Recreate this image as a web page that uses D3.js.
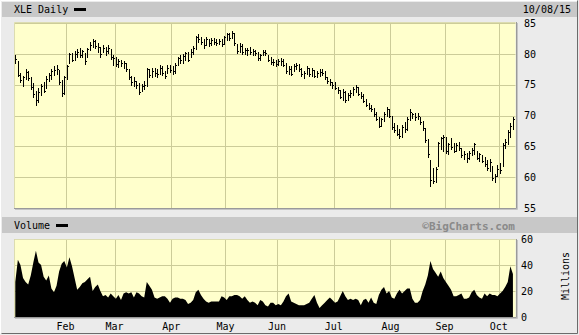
<!DOCTYPE html>
<html>
<head>
<meta charset="utf-8">
<script src="https://cdn.jsdelivr.net/npm/d3@7"></script>
<style>
  body { margin: 0; background: #ebebeb; }
  svg { display: block; }
  text { font-family: "DejaVu Sans Mono", monospace; font-size: 10px; fill: #000; }
</style>
</head>
<body>
<svg id="chart" width="579" height="335"></svg>
<script>
// XLE daily bars, Jan 2 2015 .. Oct 8 2015 (one entry per trading day)
const highs = [
  79.8,78.9,77.0,76.5,77.5,77.3,76.3,75.3,74.0,74.5,75.2,75.5,76.5,77.0,77.6,78.0,78.2,77.4,75.8,76.5,
  78.3,80.2,80.2,80.5,80.8,81.0,80.7,80.2,81.0,82.0,82.4,82.3,81.8,81.2,81.5,81.2,81.4,80.8,79.9,
  79.6,79.2,79.1,78.9,78.5,77.6,76.5,76.2,75.7,75.3,75.2,75.6,77.8,77.5,77.7,77.8,77.5,78.3,78.0,77.2,78.2,78.3,
  78.0,78.6,79.6,79.8,80.0,80.4,80.4,80.8,81.3,83.0,83.2,82.8,82.4,82.8,82.5,82.6,82.6,82.4,82.5,82.4,82.9,
  83.4,83.5,83.8,83.4,81.7,81.8,81.7,81.0,81.0,81.1,80.9,80.7,80.3,80.0,80.6,80.7,79.9,79.6,79.2,79.0,
  79.2,79.3,79.2,78.5,78.1,78.0,78.4,78.5,78.4,77.8,77.3,78.0,77.8,77.7,77.4,77.2,77.5,77.6,77.2,76.3,76.0,75.5,
  75.5,74.6,74.2,74.4,74.0,73.7,74.2,74.6,75.0,74.6,73.8,73.5,72.7,72.0,71.8,71.3,70.6,69.8,69.6,70.6,71.4,71.0,
  69.9,68.8,68.5,67.8,68.5,69.0,69.8,71.0,70.5,70.4,70.5,69.8,69.2,68.0,66.2,62.8,61.5,61.6,65.8,66.6,66.9,
  66.5,65.6,66.3,65.6,65.5,65.8,64.8,64.3,64.0,64.3,64.8,65.6,64.2,64.0,63.6,63.3,62.8,62.9,61.8,60.6,62.0,
  62.3,65.6,66.2,67.6,68.8,69.7
];
const lows = [
  78.6,76.4,75.5,74.8,75.9,75.8,74.4,73.0,71.7,72.2,73.3,73.8,74.5,75.6,76.0,76.6,76.8,75.2,73.2,73.5,
  76.0,78.5,78.9,79.0,79.6,79.5,79.5,78.4,79.5,80.7,81.2,81.0,80.3,79.6,80.3,79.8,80.1,79.2,78.3,
  78.0,77.9,78.0,77.8,77.3,76.0,75.0,74.8,74.5,73.5,74.0,74.3,74.8,76.2,76.3,76.5,76.2,76.8,76.6,76.1,77.0,77.1,
  76.7,76.9,78.2,78.6,78.6,79.0,78.8,79.5,80.0,80.8,82.0,81.6,81.0,81.4,81.3,81.5,81.6,81.5,81.6,81.3,81.7,
  82.3,82.3,82.6,81.5,80.2,80.3,80.0,80.0,79.9,80.0,79.9,79.8,79.1,79.0,79.8,79.9,78.8,78.4,78.2,78.0,
  78.2,78.3,78.1,77.0,76.7,76.6,77.2,77.5,77.3,76.5,76.1,76.8,76.5,76.5,76.2,76.2,76.5,76.6,76.0,75.3,75.0,74.5,
  74.3,73.7,72.8,72.6,72.2,72.6,73.0,73.4,73.8,73.3,72.9,72.2,71.6,71.0,70.7,70.0,69.3,68.1,68.3,69.2,69.9,69.7,
  67.8,67.4,66.8,66.4,66.6,67.4,67.7,69.3,69.6,69.3,69.4,68.7,67.7,65.8,63.3,58.6,59.1,59.2,61.8,64.6,64.3,
  63.9,63.8,64.6,64.1,64.2,64.5,63.3,63.0,62.5,63.0,63.6,63.8,62.9,62.6,62.4,61.9,61.2,61.0,59.6,59.3,60.2,
  60.7,61.8,64.8,65.4,66.6,67.8
];
const closes = [
  79.2,76.6,75.8,76.2,77.1,76.1,74.6,73.5,72.5,73.8,74.8,74.0,76.0,76.6,77.2,77.4,77.6,75.5,73.6,76.2,
  78.0,80.0,79.1,80.0,80.4,79.8,80.5,78.8,80.8,81.4,82.1,81.3,81.1,80.0,81.0,80.5,81.0,79.6,79.3,
  78.4,78.9,78.6,78.5,77.6,76.3,75.4,75.6,74.9,73.8,74.8,75.0,77.5,76.6,77.3,77.0,76.8,77.8,76.9,76.5,77.8,77.4,
  77.2,78.3,79.4,79.0,79.7,80.1,79.1,80.4,81.0,82.8,82.5,82.0,81.5,82.4,81.8,82.3,82.0,81.8,82.2,81.6,82.7,
  83.2,82.6,83.5,81.8,80.5,81.3,80.4,80.6,80.6,80.3,80.5,80.1,79.4,79.8,80.3,80.2,79.1,78.7,78.7,78.4,
  78.9,78.8,78.3,77.3,77.5,76.8,78.1,78.3,77.5,76.7,76.9,77.7,76.8,77.4,76.4,76.9,77.1,76.9,76.2,75.6,75.4,74.9,
  74.5,74.2,73.0,73.9,72.5,73.3,73.6,74.3,74.6,73.5,73.2,72.4,71.8,71.3,71.0,70.3,69.5,68.4,69.4,70.3,71.0,70.0,
  68.2,67.7,67.1,66.7,68.2,67.8,69.5,70.6,70.2,69.7,70.0,69.0,68.0,66.0,63.8,59.6,59.4,61.3,65.5,66.3,66.5,
  64.2,65.4,64.9,64.3,65.2,64.8,63.6,63.8,63.1,64.0,64.5,65.4,63.2,63.7,62.7,62.1,61.5,62.5,59.9,60.2,61.3,
  61.2,65.3,65.7,67.3,68.3,69.4
];
// volume, millions of shares
const volumes = [
  27,44,40,30,27,25,32,42,51,42,40,31,28,32,22,19,24,35,41,43,
  38,46,39,30,21,23,26,27,29,31,20,23,25,20,16,17,15,18,16,
  14,17,13,18,19,18,19,15,19,18,16,15,27,24,21,15,14,15,16,16,14,11,
  14,15,15,14,14,13,10,11,13,19,21,17,14,12,11,12,12,12,12,16,15,
  13,16,16,17,17,16,14,16,13,11,12,11,9,13,12,9,8,11,11,9,
  10,9,12,16,18,12,11,10,9,9,9,10,11,14,17,11,7,9,11,13,15,13,
  11,12,16,20,16,13,14,13,14,13,9,13,14,11,15,11,10,17,21,23,18,20,
  15,14,18,21,18,20,22,22,14,11,11,13,20,25,32,43,37,34,31,35,30,
  27,24,21,16,16,17,18,14,14,15,19,21,17,15,14,18,16,18,17,17,16,
  18,20,23,27,39,33
];
// first trading day of each month (bar index) and its label
const monthStarts = [20, 39, 61, 82, 102, 124, 146, 167, 188];
const monthLabels = ["Feb", "Mar", "Apr", "May", "Jun", "Jul", "Aug", "Sep", "Oct"];
const priceTicks = [55, 60, 65, 70, 75, 80, 85];
const volumeTicks = [0, 20, 40, 60];

const svg = d3.select("#chart");
const W = 579, H = 335;
const plotL = 14, plotR = 515.5;
const price = { top: 23.3, bottom: 208 };
const vol = { top: 239, bottom: 317 };
const gridColor = "#cccc99";
const plotFill = "#ffffcc";

const x = d3.scaleLinear().domain([0, 194.5]).range([plotL, plotR]);
const yP = d3.scaleLinear().domain([55, 85]).range([price.bottom, price.top]);
const yV = d3.scaleLinear().domain([0, 60]).range([vol.bottom, vol.top]);
const crisp = v => Math.round(v) + 0.5;

// frame
svg.append("rect").attr("width", W).attr("height", H).attr("fill", "#ebebeb");
svg.append("path")
    .attr("d", `M0.5,${H - 1.5} V0.5 H${W - 1.5}`)
    .attr("fill", "none").attr("stroke", "#ffffff");
svg.append("path")
    .attr("d", `M1.5,${H - 1.5} H${W - 1.5} V0.5`)
    .attr("fill", "none").attr("stroke", "#6b6b6b");

// title bands
svg.append("rect").attr("x", 2).attr("y", 2).attr("width", W - 4).attr("height", 15).attr("fill", "#c8c8c8");
svg.append("rect").attr("x", 2).attr("y", 217).attr("width", W - 4).attr("height", 16).attr("fill", "#c8c8c8");

svg.append("text").attr("x", 14).attr("y", 13).text("XLE Daily");
svg.append("rect").attr("x", 74).attr("y", 8).attr("width", 12).attr("height", 3).attr("fill", "#000");
svg.append("text").attr("x", 571).attr("y", 13).attr("text-anchor", "end").text("10/08/15");

svg.append("text").attr("x", 14).attr("y", 229).text("Volume");
svg.append("rect").attr("x", 56).attr("y", 224).attr("width", 12).attr("height", 3).attr("fill", "#000");
svg.append("text").attr("x", 515).attr("y", 229.5).attr("text-anchor", "end")
    .style("font-weight", "bold").style("font-size", "11px").style("fill", "#8a8a8a")
    .text("\u00a9BigCharts.com");

function panel(top, bottom, ticks, yScale) {
    const g = svg.append("g");
    g.append("rect").attr("x", plotL).attr("y", top).attr("width", plotR - plotL).attr("height", bottom - top)
        .attr("fill", plotFill);
    g.selectAll(".hg").data(ticks).join("line")
        .attr("x1", plotL).attr("x2", plotR)
        .attr("y1", d => crisp(yScale(d))).attr("y2", d => crisp(yScale(d)))
        .attr("stroke", gridColor);
    g.selectAll(".vg").data(monthStarts).join("line")
        .attr("x1", d => crisp(x(d))).attr("x2", d => crisp(x(d)))
        .attr("y1", top).attr("y2", bottom)
        .attr("stroke", gridColor);
    return g;
}

function panelBorder(top, bottom) {
    svg.append("path")
        .attr("d", `M${plotL + 0.5},${bottom} V${top + 0.5} H${plotR}`)
        .attr("fill", "none").attr("stroke", "#dcdcb0");
    svg.append("path")
        .attr("d", `M${plotL},${Math.round(bottom) + 0.5} H${Math.round(plotR) + 0.5} V${top}`)
        .attr("fill", "none").attr("stroke", "#9a9a9a").attr("stroke-width", 1);
    svg.append("path")
        .attr("d", `M${plotL + 1},${Math.round(bottom) + 1.5} H${Math.round(plotR) + 1.5} V${top + 1}`)
        .attr("fill", "none").attr("stroke", "#c4c4c4").attr("stroke-width", 1);
}

// price panel
panel(price.top - 1.3, price.bottom, priceTicks, yP);
const bars = svg.append("g").attr("stroke", "#000").attr("stroke-width", 1);
closes.forEach((c, i) => {
    const cx = crisp(x(i + 0.5));
    bars.append("line")
        .attr("x1", cx).attr("x2", cx)
        .attr("y1", Math.round(yP(highs[i]))).attr("y2", Math.round(yP(lows[i])) + 1);
    bars.append("line")
        .attr("x1", cx).attr("x2", cx + 1.5)
        .attr("y1", crisp(yP(c))).attr("y2", crisp(yP(c)));
});
panelBorder(price.top - 1.3, price.bottom);

svg.append("g").selectAll("text").data(priceTicks).join("text")
    .attr("x", 524).attr("y", d => yP(d) + 3.5)
    .text(d => d);

// volume panel
panel(vol.top, vol.bottom, volumeTicks, yV);
const area = d3.area()
    .x((d, i) => x(i + 0.5))
    .y0(vol.bottom)
    .y1(d => yV(d));
svg.append("path").datum(volumes).attr("d", area).attr("fill", "#000");
panelBorder(vol.top, vol.bottom);

svg.append("g").selectAll("text").data(volumeTicks).join("text")
    .attr("x", 521).attr("y", d => yV(d) + 3.5)
    .text(d => d);

svg.append("text")
    .attr("transform", "translate(569,276) rotate(-90)")
    .attr("text-anchor", "middle")
    .text("Millions");

svg.append("g").selectAll("text").data(monthStarts).join("text")
    .attr("x", d => x(d)).attr("y", 330)
    .attr("text-anchor", "middle")
    .text((d, i) => monthLabels[i]);
</script>
</body>
</html>
